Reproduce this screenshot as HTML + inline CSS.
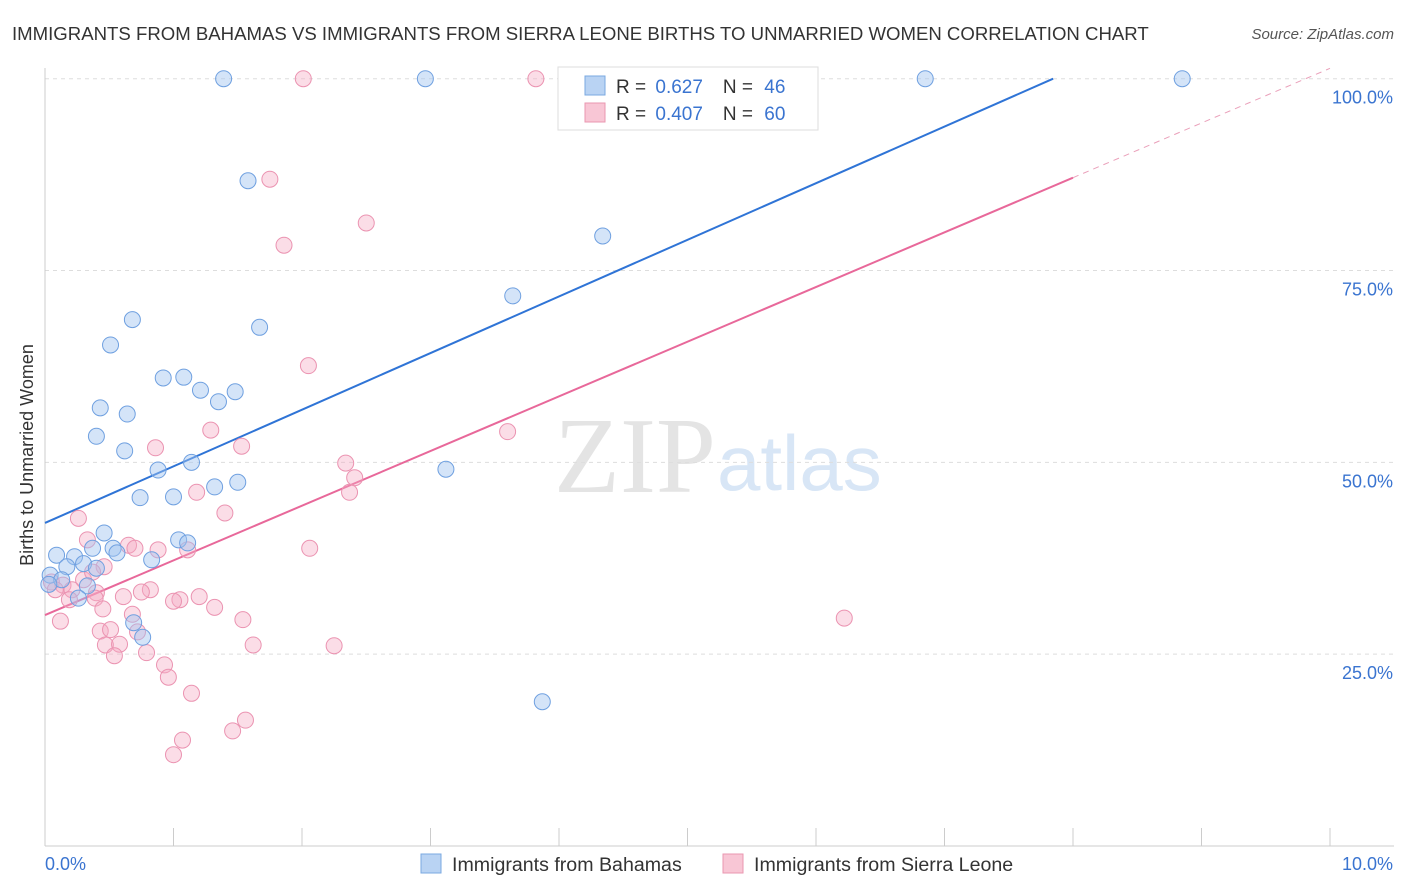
<!DOCTYPE html>
<html><head><meta charset="utf-8"><style>
body{margin:0;background:#fff;font-family:"Liberation Sans",sans-serif;}
svg{display:block}
</style></head><body>
<svg id="chart" width="1406" height="892">
<text x="12" y="40" font-size="18.6" fill="#333">IMMIGRANTS FROM BAHAMAS VS IMMIGRANTS FROM SIERRA LEONE BIRTHS TO UNMARRIED WOMEN CORRELATION CHART</text>
<text x="1394" y="39" font-size="15" fill="#555" font-style="italic" text-anchor="end">Source: ZipAtlas.com</text>
<text x="716" y="492" font-size="108" fill="#e4e4e4" text-anchor="end" font-family="Liberation Serif,serif">ZIP</text>
<text x="717" y="490" font-size="78" fill="#d8e6f6">atlas</text>
<text transform="translate(33,455) rotate(-90)" font-size="18" fill="#333" text-anchor="middle">Births to Unmarried Women</text>
<g id="grid"></g><g id="axes"></g><g id="lines"></g><g id="pts"></g>
<g>
<rect x="558" y="67" width="260" height="63" fill="#fff" stroke="#ddd"/>
<rect x="585" y="76" width="20" height="19" fill="#b9d3f3" stroke="#7aa8e0"/>
<rect x="585" y="103" width="20" height="19" fill="#f8c6d5" stroke="#ea97b0"/>
<text x="616" y="93" font-size="19" fill="#333">R = <tspan fill="#3a74d0" dx="4">0.627</tspan><tspan dx="20">N = </tspan><tspan fill="#3a74d0" dx="6">46</tspan></text>
<text x="616" y="120" font-size="19" fill="#333">R = <tspan fill="#3a74d0" dx="4">0.407</tspan><tspan dx="20">N = </tspan><tspan fill="#3a74d0" dx="6">60</tspan></text>
</g>
<g>
<rect x="421" y="854" width="20" height="19" fill="#b9d3f3" stroke="#7aa8e0"/>
<text x="452" y="871" font-size="19.6" fill="#333">Immigrants from Bahamas</text>
<rect x="723" y="854" width="20" height="19" fill="#f8c6d5" stroke="#ea97b0"/>
<text x="754" y="871" font-size="19.6" fill="#333">Immigrants from Sierra Leone</text>
</g>
</svg>
<script>
const blueX=[1.39,2.96,6.85,8.85,1.58,4.34,3.64,0.68,1.67,0.51,0.92,1.08,1.21,1.48,1.35,0.43,0.64,0.40,0.62,0.88,1.14,3.12,1.50,1.32,0.74,1.00,0.46,1.04,1.11,0.37,0.53,0.56,0.83,0.09,0.23,0.30,0.17,0.40,0.04,0.13,0.03,0.33,0.26,0.69,0.76,3.87];
const blueY=[100,100,100,100,86.7,79.5,71.7,68.6,67.6,65.3,61.0,61.1,59.4,59.2,57.9,57.1,56.3,53.4,51.5,49.0,50.0,49.1,47.4,46.8,45.4,45.5,40.8,39.9,39.5,38.8,38.8,38.2,37.3,37.9,37.7,36.8,36.4,36.2,35.3,34.7,34.1,33.9,32.3,29.1,27.2,18.8];
const pinkX=[2.01,3.82,1.75,2.50,1.86,2.05,1.29,3.60,0.86,1.53,2.34,2.41,2.37,1.18,1.40,0.26,2.06,0.33,0.65,0.70,0.88,1.11,0.46,0.30,0.05,0.14,0.21,0.40,0.39,0.61,0.82,0.75,1.05,1.00,1.20,1.32,0.45,0.68,0.12,1.54,0.43,0.51,0.72,0.47,0.58,1.62,2.25,0.79,0.54,0.93,0.96,1.14,6.22,1.56,1.46,1.07,1.00,0.08,0.19,0.37];
const pinkY=[100,100,86.9,81.2,78.3,62.6,54.2,54.0,51.9,52.1,49.9,48.0,46.1,46.1,43.4,42.7,38.8,39.9,39.2,38.8,38.6,38.6,36.4,34.7,34.4,34.0,33.4,33.0,32.3,32.5,33.4,33.1,32.1,31.9,32.5,31.1,30.9,30.2,29.3,29.5,28.0,28.2,27.9,26.2,26.3,26.2,26.1,25.2,24.8,23.6,22.0,19.9,29.7,16.4,15.0,13.8,11.9,33.4,32.1,35.7];
const blueTrend=[42.1,7.38];   // intercept, slope
const pinkTrend=[30.1,7.125];
const yTicks=[25,50,75,100];
const yTickLabels=["25.0%","50.0%","75.0%","100.0%"];
const xTickCount=10;
const NS="http://www.w3.org/2000/svg";
const X=v=>45+v*128.5, Y=v=>846-v*7.673;
function mk(tag,attrs,parent){const e=document.createElementNS(NS,tag);for(const k in attrs)e.setAttribute(k,attrs[k]);parent.appendChild(e);return e;}
const grid=document.getElementById('grid'),axes=document.getElementById('axes'),lines=document.getElementById('lines'),pts=document.getElementById('pts');
yTicks.forEach((t,i)=>{
 const l=mk('line',{x1:45,x2:1394,y1:Y(t),y2:Y(t),stroke:'#ddd','stroke-dasharray':'4,4'},grid);
 
 
 const tx=mk('text',{x:1393,y:Y(t)+25,'font-size':18,fill:'#3a74d0','text-anchor':'end'},axes);
 tx.textContent=yTickLabels[i];
 
 
});
const ya=mk('line',{x1:45,x2:45,y1:68,y2:846,stroke:'#ccc'},axes);


const xa=mk('line',{x1:45,x2:1394,y1:846,y2:846,stroke:'#ccc'},axes);


for(let i=1;i<=xTickCount;i++){
 const t=mk('line',{x1:X(i),x2:X(i),y1:828,y2:846,stroke:'#ccc'},axes);
 
 
}
const x0=mk('text',{x:45,y:870,'font-size':18,fill:'#3a74d0'},axes);x0.textContent='0.0%';


const x1=mk('text',{x:1393,y:870,'font-size':18,fill:'#3a74d0','text-anchor':'end'},axes);x1.textContent='10.0%';


const bEnd=(100-blueTrend[0])/blueTrend[1];
const bl=mk('line',{x1:X(0),y1:Y(blueTrend[0]),x2:X(bEnd),y2:Y(100),stroke:'#2f74d6','stroke-width':2},lines);


const pMid=8.0;
const pl=mk('line',{x1:X(0),y1:Y(pinkTrend[0]),x2:X(pMid),y2:Y(pinkTrend[0]+pinkTrend[1]*pMid),stroke:'#e8689a','stroke-width':2},lines);


const pd=mk('line',{x1:X(pMid),y1:Y(pinkTrend[0]+pinkTrend[1]*pMid),x2:X(10),y2:Y(pinkTrend[0]+pinkTrend[1]*10),stroke:'#eaa0ba','stroke-width':1,'stroke-dasharray':'6,5'},lines);


pinkX.forEach((v,i)=>{
 const c=mk('circle',{cx:X(v),cy:Y(pinkY[i]),r:8,fill:'rgba(245,170,195,0.4)',stroke:'#eb93b1','stroke-width':1},pts);
 
 
});
blueX.forEach((v,i)=>{
 const c=mk('circle',{cx:X(v),cy:Y(blueY[i]),r:8,fill:'rgba(160,196,240,0.45)',stroke:'#6fa0e0','stroke-width':1},pts);
 
 
});
</script>
</body></html>
